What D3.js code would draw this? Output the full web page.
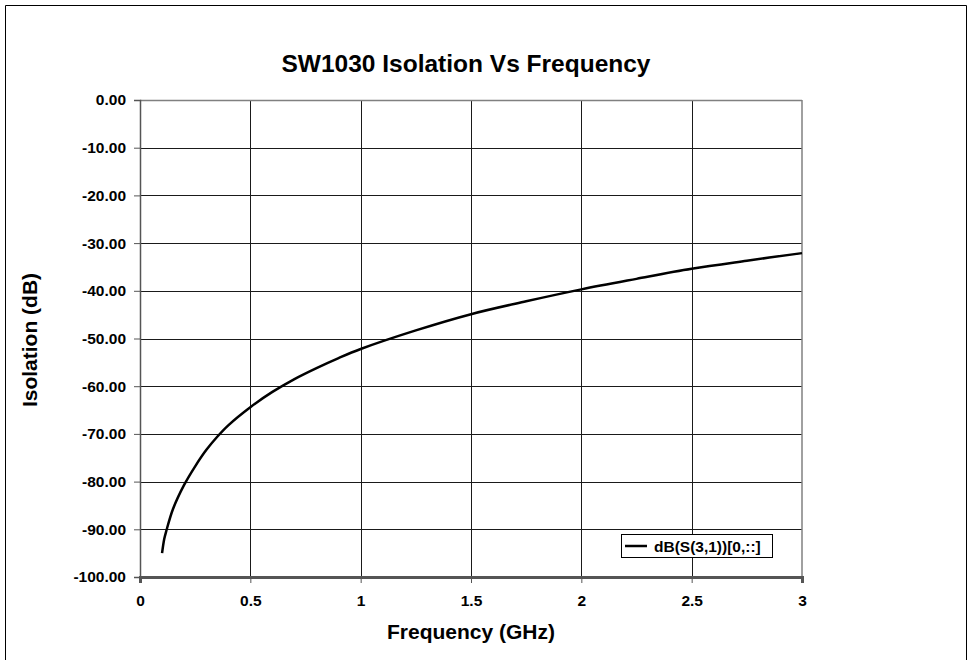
<!DOCTYPE html>
<html>
<head>
<meta charset="utf-8">
<script src="https://cdn.jsdelivr.net/npm/d3@7/dist/d3.min.js"></script>
<style>
  html, body { margin: 0; padding: 0; background: #fff; }
  svg { display: block; }
  text { font-family: "Liberation Sans", Arial, Helvetica, sans-serif; font-weight: bold; fill: #000; }
</style>
</head>
<body>
<svg id="chart" width="969" height="660"></svg>
<script>
// ---- data ----
const frequencyGHz = [0.10, 0.11, 0.12, 0.15, 0.20, 0.25, 0.30, 0.35, 0.40, 0.50, 0.60, 0.70, 0.80, 0.90, 1.00, 1.25, 1.50, 1.75, 2.00, 2.25, 2.50, 2.75, 3.00];
const isolationDB  = [-95.0, -92.0, -90.2, -85.7, -80.7, -76.8, -73.4, -70.6, -68.2, -64.4, -61.2, -58.5, -56.2, -54.1, -52.2, -48.3, -44.9, -42.2, -39.7, -37.5, -35.4, -33.7, -32.1];
const xTicks = [0, 0.5, 1, 1.5, 2, 2.5, 3];
const yTicks = [0, -10, -20, -30, -40, -50, -60, -70, -80, -90, -100];
const titleText = "SW1030 Isolation Vs Frequency";
const xTitle = "Frequency (GHz)";
const yTitle = "Isolation (dB)";
const seriesName = "dB(S(3,1))[0,::]";

const svg = d3.select("#chart");
const L = 140, R = 802, T = 100, B = 577;

const x = d3.scaleLinear().domain([0, 3]).range([L, R]);
const y = d3.scaleLinear().domain([-100, 0]).range([B, T]);

// outer frame
svg.append("path")
  .attr("d", `M5.5,660 L5.5,5.5 L966.5,5.5 L966.5,660`)
  .attr("fill", "none").attr("stroke", "#000").attr("stroke-width", 1);

// grid
const g = svg.append("g");
g.selectAll("line.hg").data(yTicks.filter(d => d !== 0 && d !== -100)).join("line")
  .attr("x1", L).attr("x2", R)
  .attr("y1", d => Math.round(y(d)) + 0.5).attr("y2", d => Math.round(y(d)) + 0.5)
  .attr("stroke", "#1a1a1a").attr("stroke-width", 1);
g.selectAll("line.vg").data(xTicks.filter(d => d !== 0 && d !== 3)).join("line")
  .attr("y1", T).attr("y2", B)
  .attr("x1", d => Math.round(x(d)) + 0.5).attr("x2", d => Math.round(x(d)) + 0.5)
  .attr("stroke", "#1a1a1a").attr("stroke-width", 1);

// plot border (top & right gray)
svg.append("line").attr("x1", L).attr("x2", R).attr("y1", T + 0.5).attr("y2", T + 0.5)
  .attr("stroke", "#808080").attr("stroke-width", 1.5);
svg.append("line").attr("x1", R).attr("x2", R).attr("y1", T).attr("y2", B)
  .attr("stroke", "#808080").attr("stroke-width", 1.5);

// axes
const yAxis = d3.axisLeft(y).tickValues(yTicks).tickSize(6).tickPadding(8)
  .tickFormat(d => d.toFixed(2));
const yg = svg.append("g").attr("transform", `translate(${L},0)`).call(yAxis);
yg.select(".domain").attr("stroke", "#555").attr("stroke-width", 1.5);
yg.selectAll(".tick line").attr("stroke", "#555");
yg.selectAll(".tick text").style("font-size", "15.5px").attr("fill", "#000");

const xAxis = d3.axisBottom(x).tickValues(xTicks).tickSize(6).tickPadding(12)
  .tickFormat(d => String(d));
const xg = svg.append("g").attr("transform", `translate(0,${B})`).call(xAxis);
xg.select(".domain").attr("stroke", "#555").attr("stroke-width", 3);
xg.selectAll(".tick line").attr("stroke", "#555");
xg.selectAll(".tick text").style("font-size", "15.5px").attr("fill", "#000");

// curve
const line = d3.line().x((d, i) => x(frequencyGHz[i])).y(d => y(d)).curve(d3.curveCatmullRom.alpha(0.5));
svg.append("path").datum(isolationDB)
  .attr("d", line).attr("fill", "none").attr("stroke", "#000").attr("stroke-width", 2.5)
  .attr("stroke-linejoin", "round");

// titles
svg.append("text").attr("x", 466).attr("y", 72).attr("text-anchor", "middle")
  .style("font-size", "24.5px").text(titleText);
svg.append("text").attr("x", 471).attr("y", 639).attr("text-anchor", "middle")
  .style("font-size", "21px").text(xTitle);
svg.append("text").attr("transform", "translate(37,340) rotate(-90)").attr("text-anchor", "middle")
  .style("font-size", "21px").text(yTitle);

// legend
const lg = svg.append("g");
lg.append("rect").attr("x", 621.5).attr("y", 534.5).attr("width", 151).attr("height", 23)
  .attr("fill", "#fff").attr("stroke", "#000").attr("stroke-width", 1);
lg.append("line").attr("x1", 625).attr("x2", 647).attr("y1", 546).attr("y2", 546)
  .attr("stroke", "#000").attr("stroke-width", 2.5);
lg.append("text").attr("x", 654).attr("y", 552).style("font-size", "15.5px").text(seriesName);
</script>
</body>
</html>
